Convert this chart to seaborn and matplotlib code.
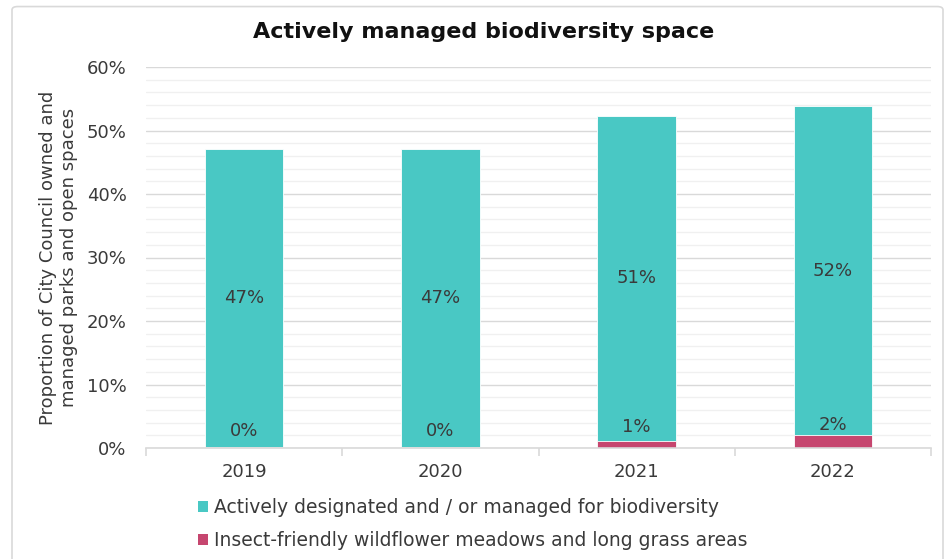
import matplotlib
matplotlib.use("Agg")
import matplotlib.pyplot as plt
from matplotlib.patches import FancyBboxPatch, Patch
from matplotlib.ticker import MultipleLocator, FixedLocator
import numpy as np
import pandas as pd
import seaborn as sns

# Share of council parks and open spaces (%)
years = ["2019", "2020", "2021", "2022"]
designated = [47.0, 47.0, 51.2, 51.8]
wildflower = [0.1, 0.1, 1.1, 2.0]

series_names = [
    "Actively designated and / or managed for biodiversity",
    "Insect-friendly wildflower meadows and long grass areas",
]
teal = "#49C8C4"
pink = "#C6466F"
text_col = "#3A3A3A"

sns.set_theme(style="white")
plt.rcParams["font.family"] = ["DejaVu Sans"]
font_w = "normal"

df = pd.DataFrame({"year": years, "designated": designated, "wildflower": wildflower})
df["total"] = df["designated"] + df["wildflower"]

fig = plt.figure(figsize=(9.52, 5.59), dpi=100)
fig.patch.set_facecolor("white")

# rounded chart frame
frame = FancyBboxPatch((12 / 952, -0.05), 931 / 952, (559 - 6) / 559 + 0.05 - 0.001,
                       boxstyle="round,pad=0,rounding_size=0.006",
                       transform=fig.transFigure, facecolor="none",
                       edgecolor="#D9D9D9", linewidth=1.2, zorder=-1)
fig.patches.append(frame)

ax = fig.add_axes([146 / 952, 1 - 448 / 559, (931 - 146) / 952, (448 - 67) / 559])
ax.set_facecolor("none")

# stacked bars: total in teal, wildflower segment overlaid at the base
sns.barplot(data=df, x="year", y="total", color=teal, width=0.4, ax=ax,
            edgecolor="white", linewidth=0.6, saturation=1, zorder=3)
sns.barplot(data=df, x="year", y="wildflower", color=pink, width=0.4, ax=ax,
            edgecolor="white", linewidth=0.6, saturation=1, zorder=4)

ax.set_ylim(0, 60)
ax.set_xlim(-0.5, 3.5)
ax.yaxis.set_major_locator(MultipleLocator(10))
ax.yaxis.set_minor_locator(MultipleLocator(2))
ax.set_yticks(ax.get_yticks())
ax.set_yticklabels([f"{int(v)}%" for v in ax.get_yticks()])
ax.set_ylim(0, 60)
ax.grid(axis="y", which="minor", color="#F0F0F0", linewidth=1.0, zorder=0)
ax.grid(axis="y", which="major", color="#D9D9D9", linewidth=1.0, zorder=1)
ax.grid(axis="x", visible=False)
ax.set_axisbelow(True)

for s in ["top", "right", "left"]:
    ax.spines[s].set_visible(False)
ax.spines["bottom"].set_color("#D9D9D9")
ax.spines["bottom"].set_linewidth(1.2)
ax.spines["bottom"].set_zorder(5)

ax.xaxis.set_minor_locator(FixedLocator(np.arange(-0.5, 4.0, 1.0)))
ax.tick_params(axis="x", which="minor", length=6, width=1.2, color="#D9D9D9", bottom=True)
ax.tick_params(axis="x", which="major", length=0, pad=11, labelsize=13, labelcolor=text_col)
ax.tick_params(axis="y", which="both", length=0, pad=14, labelsize=13, labelcolor=text_col)
for lab in ax.get_xticklabels() + ax.get_yticklabels():
    lab.set_fontweight(font_w)

ax.set_xlabel("")
ax.set_ylabel("Proportion of City Council owned and\nmanaged parks and open spaces",
              fontsize=13, color=text_col, fontweight=font_w, labelpad=6,
              linespacing=1.25)

# value labels
for i, (d, w) in enumerate(zip(designated, wildflower)):
    ax.text(i, w + d / 2, f"{d:.0f}%", ha="center", va="center",
            fontsize=13, color=text_col, fontweight=font_w, zorder=6)
    ax.text(i, w / 2 + 2.7, f"{w:.0f}%", ha="center", va="center",
            fontsize=13, color=text_col, fontweight=font_w, zorder=6)

fig.text(484 / 952, 1 - 32 / 559, "Actively managed biodiversity space",
         ha="center", va="center", fontsize=16, fontweight="bold", color="#111111")

handles = [Patch(facecolor=teal, edgecolor="none"), Patch(facecolor=pink, edgecolor="none")]
leg = fig.legend(handles, series_names, loc="upper left",
                 bbox_to_anchor=(198 / 952, 1 - 498 / 559), frameon=False,
                 fontsize=13.5, handlelength=0.55, handleheight=0.55,
                 handletextpad=0.3, labelspacing=0.75, borderaxespad=0, borderpad=0)
for t in leg.get_texts():
    t.set_color(text_col)
    t.set_fontweight(font_w)

fig.savefig("out.png", dpi=100, facecolor="white")
